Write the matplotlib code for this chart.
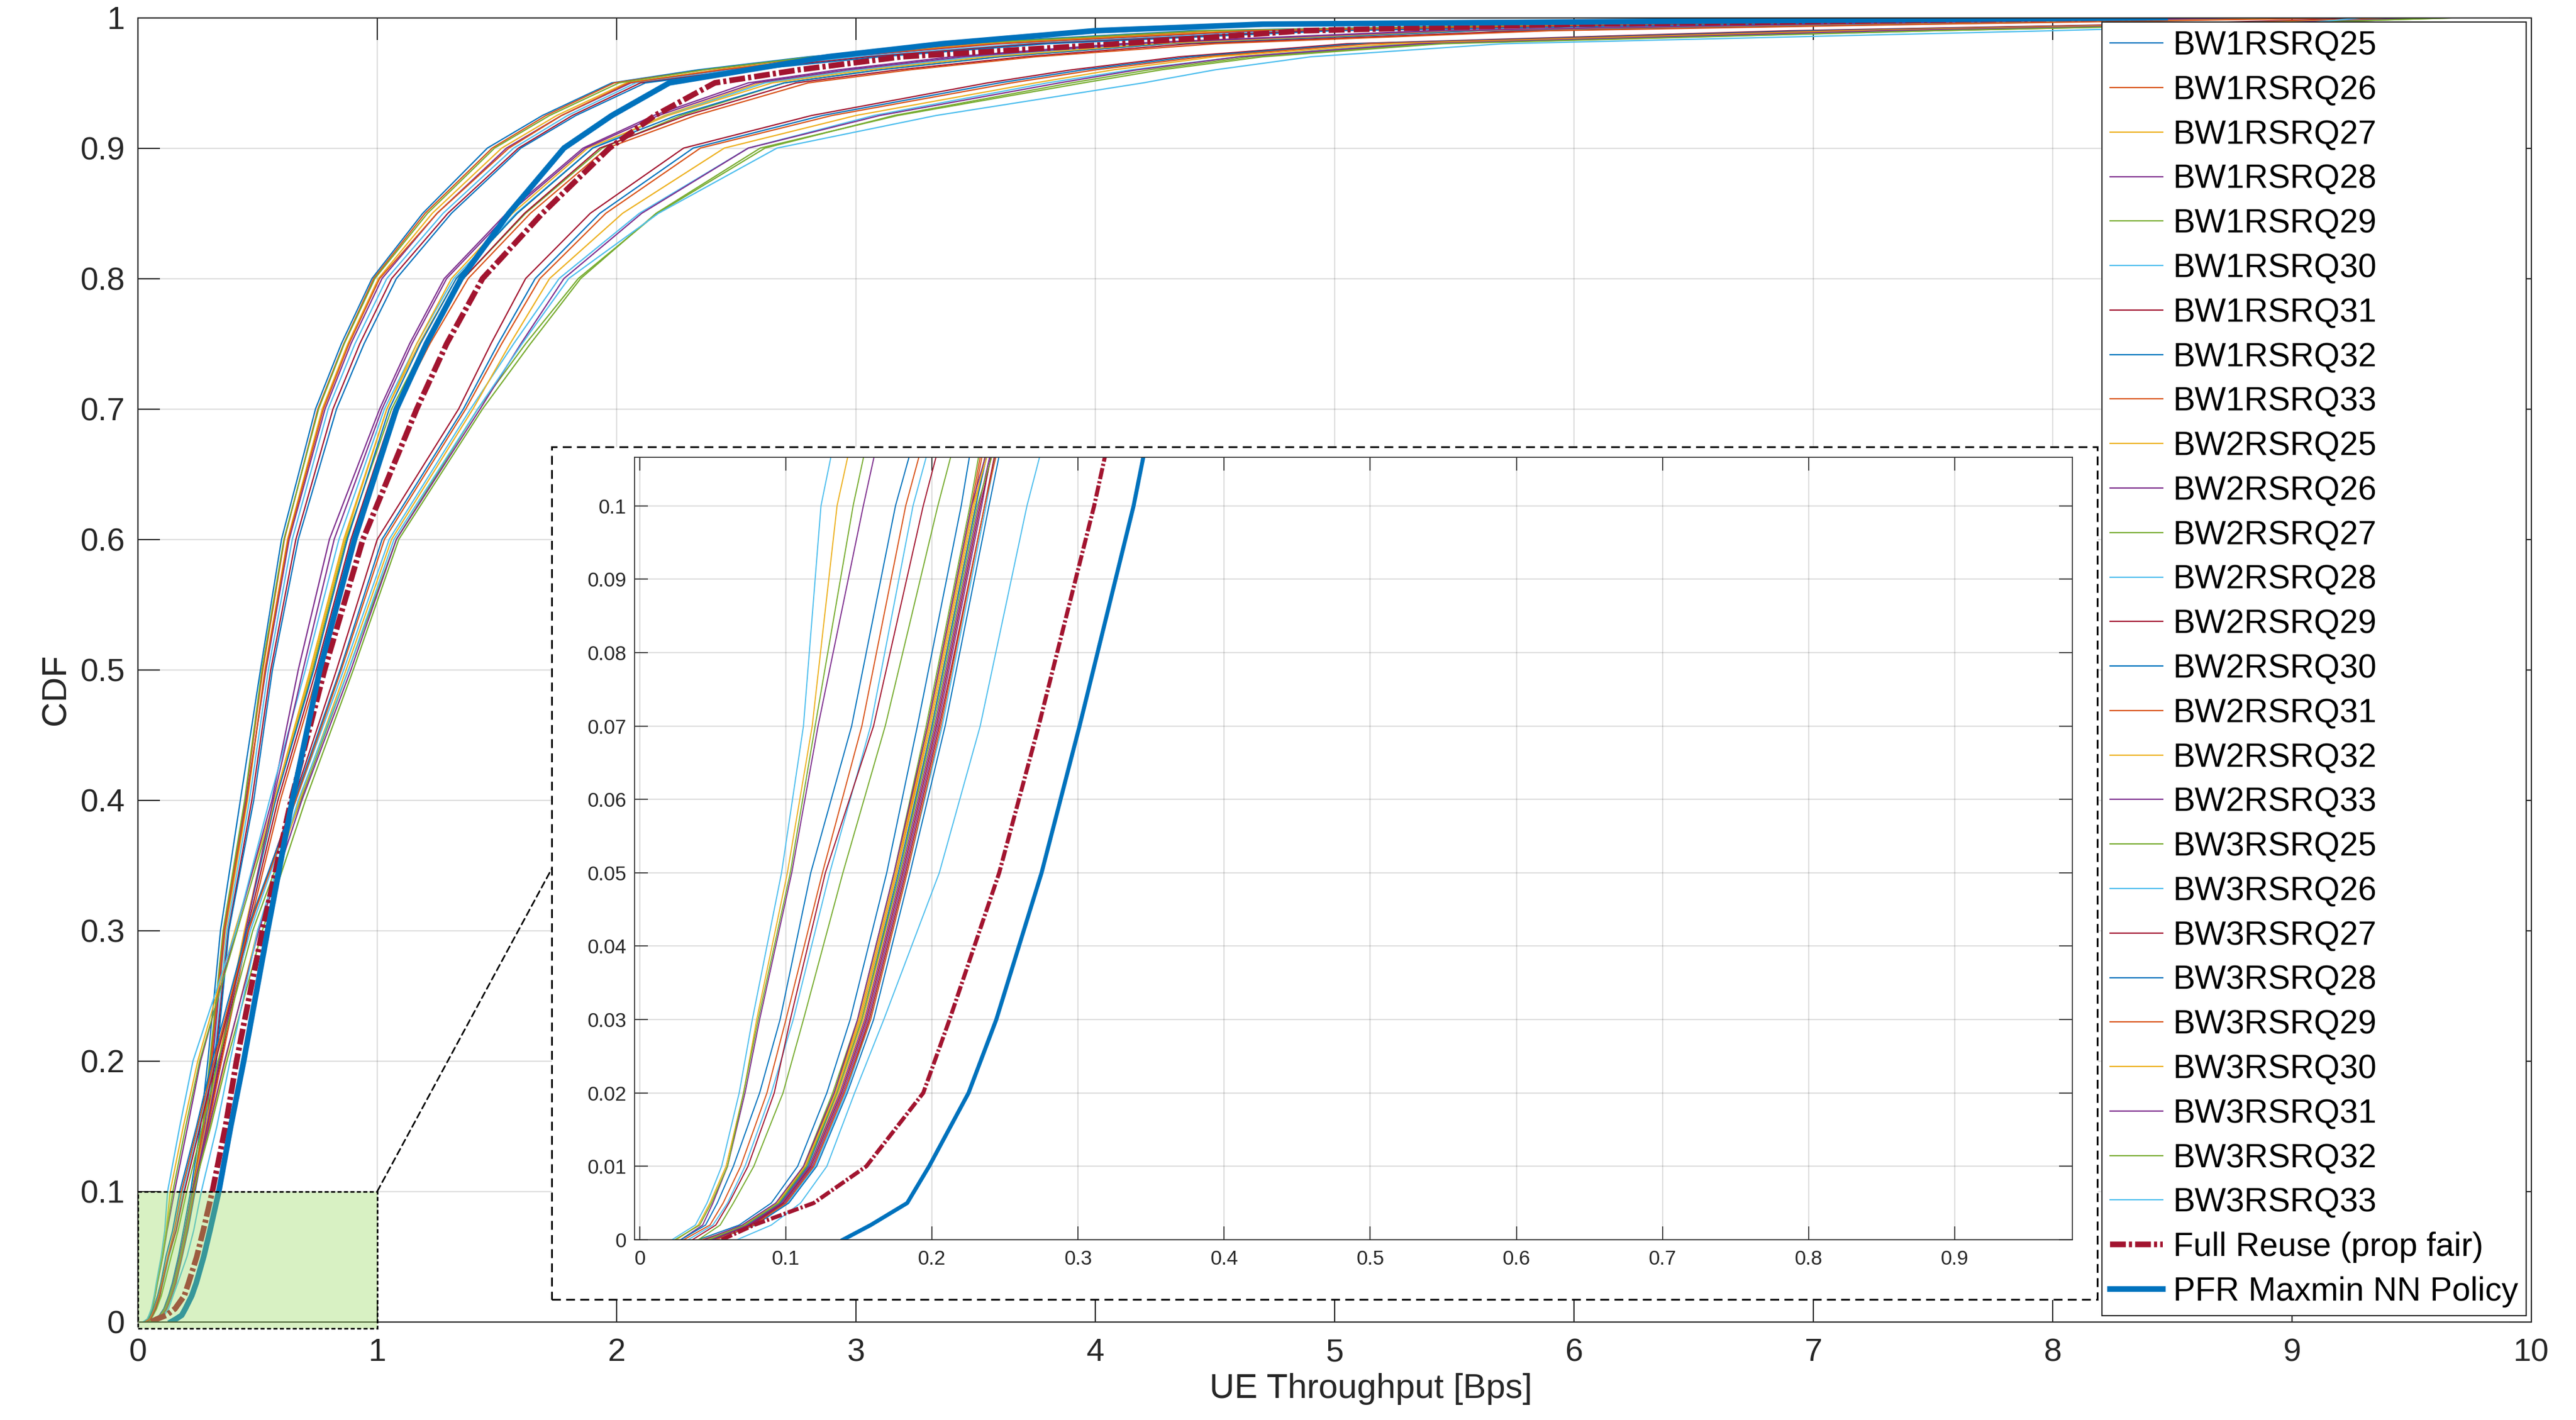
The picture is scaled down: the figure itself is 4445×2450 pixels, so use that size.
import matplotlib
matplotlib.use('Agg')
import matplotlib.pyplot as plt
from matplotlib.patches import Rectangle, ConnectionPatch
from matplotlib.ticker import FuncFormatter

plt.rcParams['font.family'] = ['Liberation Sans', 'DejaVu Sans']

# ---------------- data (quantiles) ----------------
cdf_levels = [0, 0.002, 0.005, 0.01, 0.02, 0.03, 0.05, 0.07, 0.10, 0.15, 0.20, 0.30,
              0.40, 0.50, 0.60, 0.70, 0.75, 0.80, 0.85, 0.90, 0.925, 0.95, 0.96, 0.97,
              0.98, 0.99, 0.995, 1.0]

labels_bw = ['BW%dRSRQ%d' % (b, r) for b in (1, 2, 3) for r in range(25, 34)]

bw1_q = [
    [0.040, 0.068, 0.090, 0.108, 0.128, 0.144, 0.169, 0.190, 0.220, 0.262, 0.292, 0.345, 0.428, 0.512, 0.600, 0.742, 0.850, 0.978, 1.19, 1.46, 1.69, 1.98, 2.34, 2.80, 3.40, 4.40, 6.0, 8.6],
    [0.045, 0.072, 0.095, 0.113, 0.133, 0.150, 0.175, 0.197, 0.227, 0.272, 0.303, 0.358, 0.448, 0.522, 0.612, 0.752, 0.860, 0.985, 1.20, 1.48, 1.705, 1.99, 2.37, 2.85, 3.50, 4.50, 6.2, 8.8],
    [0.042, 0.074, 0.097, 0.116, 0.136, 0.153, 0.178, 0.200, 0.230, 0.276, 0.308, 0.366, 0.458, 0.530, 0.625, 0.770, 0.877, 1.005, 1.23, 1.52, 1.75, 2.04, 2.42, 2.90, 3.55, 4.60, 6.3, 8.9],
    [0.048, 0.076, 0.099, 0.118, 0.139, 0.156, 0.181, 0.204, 0.234, 0.280, 0.312, 0.362, 0.452, 0.535, 0.632, 0.782, 0.890, 1.02, 1.25, 1.54, 1.77, 2.06, 2.455, 2.95, 3.60, 4.70, 6.4, 9.0],
    [0.044, 0.071, 0.094, 0.112, 0.132, 0.149, 0.174, 0.196, 0.226, 0.270, 0.300, 0.356, 0.446, 0.518, 0.610, 0.755, 0.862, 0.990, 1.21, 1.49, 1.72, 2.01, 2.365, 2.82, 3.45, 4.45, 6.1, 8.7],
    [0.050, 0.078, 0.101, 0.120, 0.141, 0.158, 0.183, 0.207, 0.237, 0.284, 0.318, 0.372, 0.466, 0.545, 0.645, 0.795, 0.907, 1.04, 1.275, 1.57, 1.795, 2.08, 2.49, 3.00, 3.70, 4.80, 6.5, 9.1],
    [0.046, 0.077, 0.100, 0.119, 0.140, 0.157, 0.182, 0.205, 0.236, 0.286, 0.322, 0.378, 0.476, 0.555, 0.660, 0.815, 0.927, 1.06, 1.295, 1.59, 1.815, 2.10, 2.525, 3.05, 3.75, 4.90, 6.6, 9.2],
    [0.052, 0.079, 0.102, 0.121, 0.142, 0.160, 0.185, 0.209, 0.239, 0.290, 0.328, 0.380, 0.484, 0.562, 0.670, 0.830, 0.945, 1.08, 1.31, 1.60, 1.83, 2.12, 2.56, 3.10, 3.80, 5.00, 6.7, 9.3],
    [0.043, 0.073, 0.096, 0.114, 0.134, 0.151, 0.176, 0.198, 0.228, 0.274, 0.306, 0.360, 0.455, 0.532, 0.628, 0.775, 0.882, 1.01, 1.25, 1.55, 1.77, 2.05, 2.435, 2.92, 3.58, 4.65, 6.3, 8.9],
]

bw2_q = [
    [0.025, 0.040, 0.048, 0.059, 0.071, 0.080, 0.101, 0.118, 0.135, 0.190, 0.250, 0.405, 0.570, 0.720, 0.860, 1.040, 1.175, 1.33, 1.585, 1.90, 2.20, 2.60, 3.00, 3.50, 4.20, 5.50, 7.2, 9.0],
    [0.028, 0.043, 0.050, 0.060, 0.072, 0.082, 0.104, 0.122, 0.153, 0.208, 0.262, 0.410, 0.560, 0.670, 0.800, 1.010, 1.135, 1.28, 1.54, 1.86, 2.155, 2.55, 2.925, 3.40, 4.10, 5.40, 7.0, 8.9],
    [0.024, 0.041, 0.049, 0.060, 0.071, 0.081, 0.103, 0.120, 0.146, 0.200, 0.258, 0.415, 0.575, 0.730, 0.870, 1.060, 1.200, 1.36, 1.62, 1.94, 2.27, 2.70, 3.10, 3.60, 4.30, 5.60, 7.3, 9.1],
    [0.022, 0.038, 0.046, 0.056, 0.068, 0.077, 0.097, 0.112, 0.124, 0.175, 0.230, 0.410, 0.550, 0.700, 0.840, 1.030, 1.165, 1.32, 1.58, 1.90, 2.21, 2.62, 3.01, 3.50, 4.20, 5.50, 7.1, 9.0],
    [0.050, 0.075, 0.098, 0.117, 0.138, 0.155, 0.180, 0.203, 0.233, 0.290, 0.345, 0.455, 0.585, 0.745, 0.890, 1.070, 1.205, 1.36, 1.615, 1.93, 2.29, 2.75, 3.175, 3.70, 4.40, 5.80, 7.4, 9.2],
    [0.048, 0.073, 0.096, 0.115, 0.135, 0.152, 0.177, 0.200, 0.230, 0.285, 0.338, 0.448, 0.575, 0.735, 0.875, 1.050, 1.180, 1.33, 1.585, 1.90, 2.25, 2.70, 3.10, 3.60, 4.30, 5.60, 7.2, 9.1],
    [0.052, 0.078, 0.100, 0.119, 0.140, 0.158, 0.183, 0.206, 0.236, 0.294, 0.350, 0.462, 0.595, 0.755, 0.900, 1.080, 1.220, 1.38, 1.64, 1.96, 2.33, 2.80, 3.225, 3.75, 4.50, 5.90, 7.5, 9.3],
    [0.046, 0.072, 0.095, 0.114, 0.134, 0.151, 0.176, 0.199, 0.229, 0.284, 0.336, 0.445, 0.570, 0.725, 0.865, 1.040, 1.165, 1.31, 1.565, 1.88, 2.215, 2.65, 3.05, 3.55, 4.25, 5.50, 7.1, 9.0],
    [0.049, 0.074, 0.097, 0.116, 0.137, 0.154, 0.179, 0.202, 0.232, 0.288, 0.340, 0.450, 0.565, 0.690, 0.820, 1.020, 1.145, 1.29, 1.55, 1.87, 2.175, 2.58, 2.965, 3.45, 4.15, 5.45, 7.0, 8.9],
]

bw3_q = [
    [0.040, 0.055, 0.064, 0.078, 0.098, 0.112, 0.139, 0.168, 0.204, 0.270, 0.335, 0.480, 0.680, 0.880, 1.080, 1.42, 1.62, 1.84, 2.17, 2.62, 3.16, 3.90, 4.225, 4.65, 5.40, 7.5, 8.8, 9.7],
    [0.033, 0.050, 0.060, 0.072, 0.090, 0.105, 0.130, 0.158, 0.187, 0.255, 0.320, 0.470, 0.660, 0.860, 1.050, 1.39, 1.57, 1.76, 2.095, 2.55, 3.075, 3.80, 4.15, 4.60, 5.30, 7.3, 8.7, 9.6],
    [0.036, 0.052, 0.061, 0.074, 0.092, 0.103, 0.127, 0.160, 0.194, 0.260, 0.325, 0.462, 0.650, 0.830, 1.000, 1.34, 1.475, 1.62, 1.89, 2.28, 2.815, 3.55, 3.90, 4.35, 5.05, 6.9, 8.4, 9.4],
    [0.028, 0.045, 0.053, 0.064, 0.082, 0.096, 0.117, 0.145, 0.175, 0.245, 0.310, 0.455, 0.655, 0.845, 1.020, 1.36, 1.505, 1.66, 1.93, 2.32, 2.86, 3.60, 3.95, 4.40, 5.10, 7.0, 8.5, 9.5],
    [0.030, 0.048, 0.057, 0.069, 0.087, 0.100, 0.125, 0.152, 0.182, 0.250, 0.318, 0.460, 0.660, 0.850, 1.030, 1.37, 1.52, 1.68, 1.955, 2.35, 2.90, 3.65, 4.00, 4.45, 5.15, 7.1, 8.5, 9.5],
    [0.046, 0.071, 0.094, 0.113, 0.134, 0.150, 0.175, 0.198, 0.228, 0.300, 0.365, 0.500, 0.675, 0.870, 1.060, 1.40, 1.555, 1.72, 2.025, 2.45, 3.00, 3.75, 4.075, 4.50, 5.25, 7.2, 8.6, 9.6],
    [0.044, 0.070, 0.093, 0.112, 0.133, 0.149, 0.174, 0.197, 0.227, 0.298, 0.362, 0.505, 0.685, 0.890, 1.080, 1.43, 1.60, 1.78, 2.105, 2.55, 3.10, 3.85, 4.175, 4.60, 5.35, 7.3, 8.7, 9.6],
    [0.047, 0.072, 0.095, 0.114, 0.135, 0.152, 0.178, 0.201, 0.231, 0.305, 0.372, 0.520, 0.700, 0.900, 1.090, 1.44, 1.64, 1.85, 2.165, 2.60, 3.175, 3.95, 4.275, 4.70, 5.45, 7.5, 8.8, 9.7],
    [0.0665, 0.090, 0.110, 0.128, 0.147, 0.167, 0.205, 0.233, 0.265, 0.330, 0.385, 0.500, 0.670, 0.880, 1.070, 1.42, 1.605, 1.80, 2.175, 2.67, 3.335, 4.20, 4.50, 4.90, 5.70, 8.0, 9.0, 9.3],
]

fr_q = [0.056, 0.078, 0.119, 0.155, 0.194, 0.212, 0.246, 0.273, 0.311, 0.366, 0.412, 0.520,
        0.640, 0.780, 0.940, 1.165, 1.29, 1.44, 1.69, 1.97, 2.16, 2.41, 2.76, 3.19, 4.10,
        4.87, 6.0, 8.42]
pfr_q = [0.139, 0.158, 0.183, 0.198, 0.225, 0.244, 0.275, 0.301, 0.338, 0.388, 0.442, 0.542,
         0.645, 0.760, 0.905, 1.080, 1.205, 1.35, 1.55, 1.78, 1.98, 2.22, 2.55, 2.88, 3.36,
         4.00, 4.70, 8.47]
fr_label = 'Full Reuse (prop fair)'
pfr_label = 'PFR Maxmin NN Policy'

main_xticks = list(range(0, 11))
main_yticks = [i / 10 for i in range(11)]
inset_xticks = [i / 10 for i in range(10)]
inset_yticks = [i / 100 for i in range(11)]

# ---------------- style ----------------
matlab_colors = ['#0072BD', '#D95319', '#EDB120', '#7E2F8E', '#77AC30', '#4DBEEE', '#A2142F']
axis_col = '#262626'
fr_col = '#A2142F'
pfr_col = '#0072BD'

W, H = 4445, 2450
DPI = 200
fig = plt.figure(figsize=(W / DPI, H / DPI), dpi=DPI)

fmt = FuncFormatter(lambda v, p: '%g' % round(v, 6))

def draw_curves(a, thin, thick, with_labels):
    all_q = bw1_q + bw2_q + bw3_q
    for i, q in enumerate(all_q):
        a.plot(q, cdf_levels, color=matlab_colors[i % 7], lw=thin,
               label=labels_bw[i] if with_labels else None)
    a.plot(fr_q, cdf_levels, color=fr_col, lw=thick, dashes=(2.8, 0.55, 0.55, 0.55),
           dash_capstyle='butt', label=fr_label if with_labels else None)
    a.plot(pfr_q, cdf_levels, color=pfr_col, lw=thick,
           label=pfr_label if with_labels else None)

def style_axes(a, tick_len, tick_w, lsize, xpad, ypad):
    a.set_axisbelow(True)
    a.grid(True, color=axis_col, alpha=0.15, lw=0.8)
    a.tick_params(which='both', direction='in', length=tick_len, width=tick_w,
                  top=True, right=True, labelsize=lsize, color=axis_col,
                  labelcolor=axis_col)
    a.tick_params(axis='x', pad=xpad)
    a.tick_params(axis='y', pad=ypad)
    a.xaxis.set_major_formatter(fmt)
    a.yaxis.set_major_formatter(fmt)
    for s in a.spines.values():
        s.set_color(axis_col)
        s.set_linewidth(tick_w)

# ---------------- main axes ----------------
ax = fig.add_axes([238 / W, 1 - 2280.5 / H, 4130 / W, 2250 / H], zorder=0)
draw_curves(ax, 0.8, 3.5, True)
ax.set_xlim(0, 10)
ax.set_ylim(0, 1)
ax.set_xticks(main_xticks)
ax.set_yticks(main_yticks)
style_axes(ax, 13.7, 0.75, 20, 10, 8)

ax.set_xlabel('UE Throughput [Bps]', fontsize=21.5, color=axis_col)
ax.xaxis.set_label_coords(0.515, -0.0393)
ax.set_ylabel('CDF', fontsize=21.5, color=axis_col)
ax.yaxis.set_label_coords(-0.0276, 0.485)

# zoom region highlight
ax.add_patch(Rectangle((0, -0.005), 1, 0.105, facecolor=(0.59, 0.85, 0.37, 0.37),
                       edgecolor='black', lw=1.0, ls=(0, (2.5, 1.5)),
                       clip_on=False, zorder=3))

leg = ax.legend(loc='upper right', bbox_to_anchor=(0.9978, 0.9967), borderaxespad=0,
                fontsize=20.5, frameon=True, fancybox=False, framealpha=1,
                edgecolor=axis_col, borderpad=0.25, labelspacing=0.4,
                handlelength=1.6, handletextpad=0.3)
leg.get_frame().set_linewidth(0.75)

# ---------------- inset frame and connector ----------------
box = Rectangle((952 / W, 1 - 2242 / H), 2667 / W, 1471 / H, transform=fig.transFigure,
                facecolor='white', edgecolor='black', lw=1.1, ls=(0, (5, 3)), zorder=2)
fig.add_artist(box)
con = ConnectionPatch(xyA=(1, 0.1), coordsA='data', axesA=ax,
                      xyB=(952 / W, 1 - 1499 / H), coordsB='figure fraction',
                      color='black', lw=1.0, ls=(0, (4, 2.5)), zorder=2.5)
fig.add_artist(con)

# ---------------- inset axes ----------------
axi = fig.add_axes([1095 / W, 1 - 2139 / H, 2481 / W, 1350 / H], zorder=3)
draw_curves(axi, 0.7, 2.5, False)
axi.set_xlim(-0.0036, 0.9806)
axi.set_ylim(0, 0.1066)
axi.set_xticks(inset_xticks)
axi.set_yticks(inset_yticks)
style_axes(axi, 8.3, 0.6, 12.5, 6, 5)

fig.savefig('out.png', dpi=DPI)
